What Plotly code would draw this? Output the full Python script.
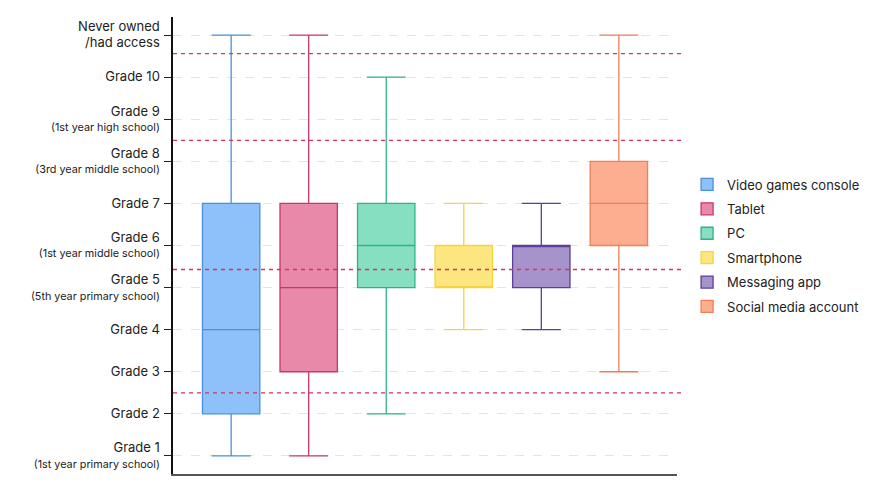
import plotly.graph_objects as go

# box stats (1 = Grade 1 ... 10 = Grade 10, 11 = never owned)
items = ["Video games console", "Tablet", "PC", "Smartphone", "Messaging app", "Social media account"]
low = [1, 1, 2, 4, 4, 3]
q1 = [2, 3, 5, 5, 5, 6]
med = [4, 5, 6, 5, 6, 7]
q3 = [7, 7, 7, 6, 6, 8]
high = [11, 11, 10, 7, 7, 11]

fills = ["#8ec1fa", "#e889aa", "#86dfc1", "#fde57f", "#a693cc", "#fdae90"]
lines = ["#4a90d9", "#c8366c", "#2db38a", "#f5d63a", "#5b3f98", "#ef7f5a"]

tick_vals = list(range(1, 12))
tick_main = ["Grade 1", "Grade 2", "Grade 3", "Grade 4", "Grade 5", "Grade 6",
             "Grade 7", "Grade 8", "Grade 9", "Grade 10", "Never owned"]
tick_sub = ["(1st year primary school)", "", "", "", "(5th year primary school)",
            "(1st year middle school)", "", "(3rd year middle school)",
            "(1st year high school)", "", ""]

# red dashed boundaries between school levels
boundaries = [2.5, 5.43, 8.5, 10.56]

big = "<span style='font-size:13px'>{}</span>"
small = "<span style='font-size:10.8px'>{}</span>"
tick_text = []
for m, s in zip(tick_main, tick_sub):
    if m == "Never owned":
        tick_text.append(big.format("Never owned") + "<br>" + big.format("/had access"))
    elif s:
        tick_text.append(big.format(m) + "<br>" + small.format(s))
    else:
        tick_text.append(big.format(m))

fig = go.Figure()
for i, name in enumerate(items):
    fig.add_trace(go.Box(
        x=[i], q1=[q1[i]], median=[med[i]], q3=[q3[i]],
        lowerfence=[low[i]], upperfence=[high[i]],
        name=name, legendgroup=name, fillcolor=fills[i],
        line=dict(color=lines[i], width=1.3),
        width=0.74, whiskerwidth=0.68, boxpoints=False,
        hoverinfo="skip",
    ))

for b in boundaries:
    fig.add_shape(type="line", xref="paper", x0=0, x1=1.01, yref="y", y0=b, y1=b,
                  line=dict(color="#d83358", width=1.3, dash="4px,4px"))

# page body has an 8px margin, so the figure is 8px smaller than the window
fig.update_layout(
    width=870, height=476,
    margin=dict(l=165, r=201, t=9, b=10, autoexpand=False),
    plot_bgcolor="white", paper_bgcolor="white",
    font=dict(family="Inter, Roboto, sans-serif", size=13, color="#222"),
    legend=dict(x=1.02, y=0.5, xanchor="left", yanchor="middle",
                font=dict(size=13, color="#222"), tracegroupgap=4.5,
                itemwidth=30),
    showlegend=True,
)
fig.update_xaxes(range=[-0.75, 5.75], showticklabels=False, ticks="",
                 showgrid=False, zeroline=False,
                 showline=True, linecolor="#555", linewidth=1.5)
fig.update_yaxes(range=[0.57, 11.43], tickvals=tick_vals, ticktext=tick_text,
                 ticks="outside", ticklen=7, tickcolor="#222",
                 ticklabelstandoff=2, automargin=False,
                 showline=True, linecolor="#111", linewidth=1.5,
                 showgrid=True, gridcolor="#e4e4e4", griddash="dash", gridwidth=1.3,
                 zeroline=False, tickfont=dict(size=12))

fig.write_html("out.html")
